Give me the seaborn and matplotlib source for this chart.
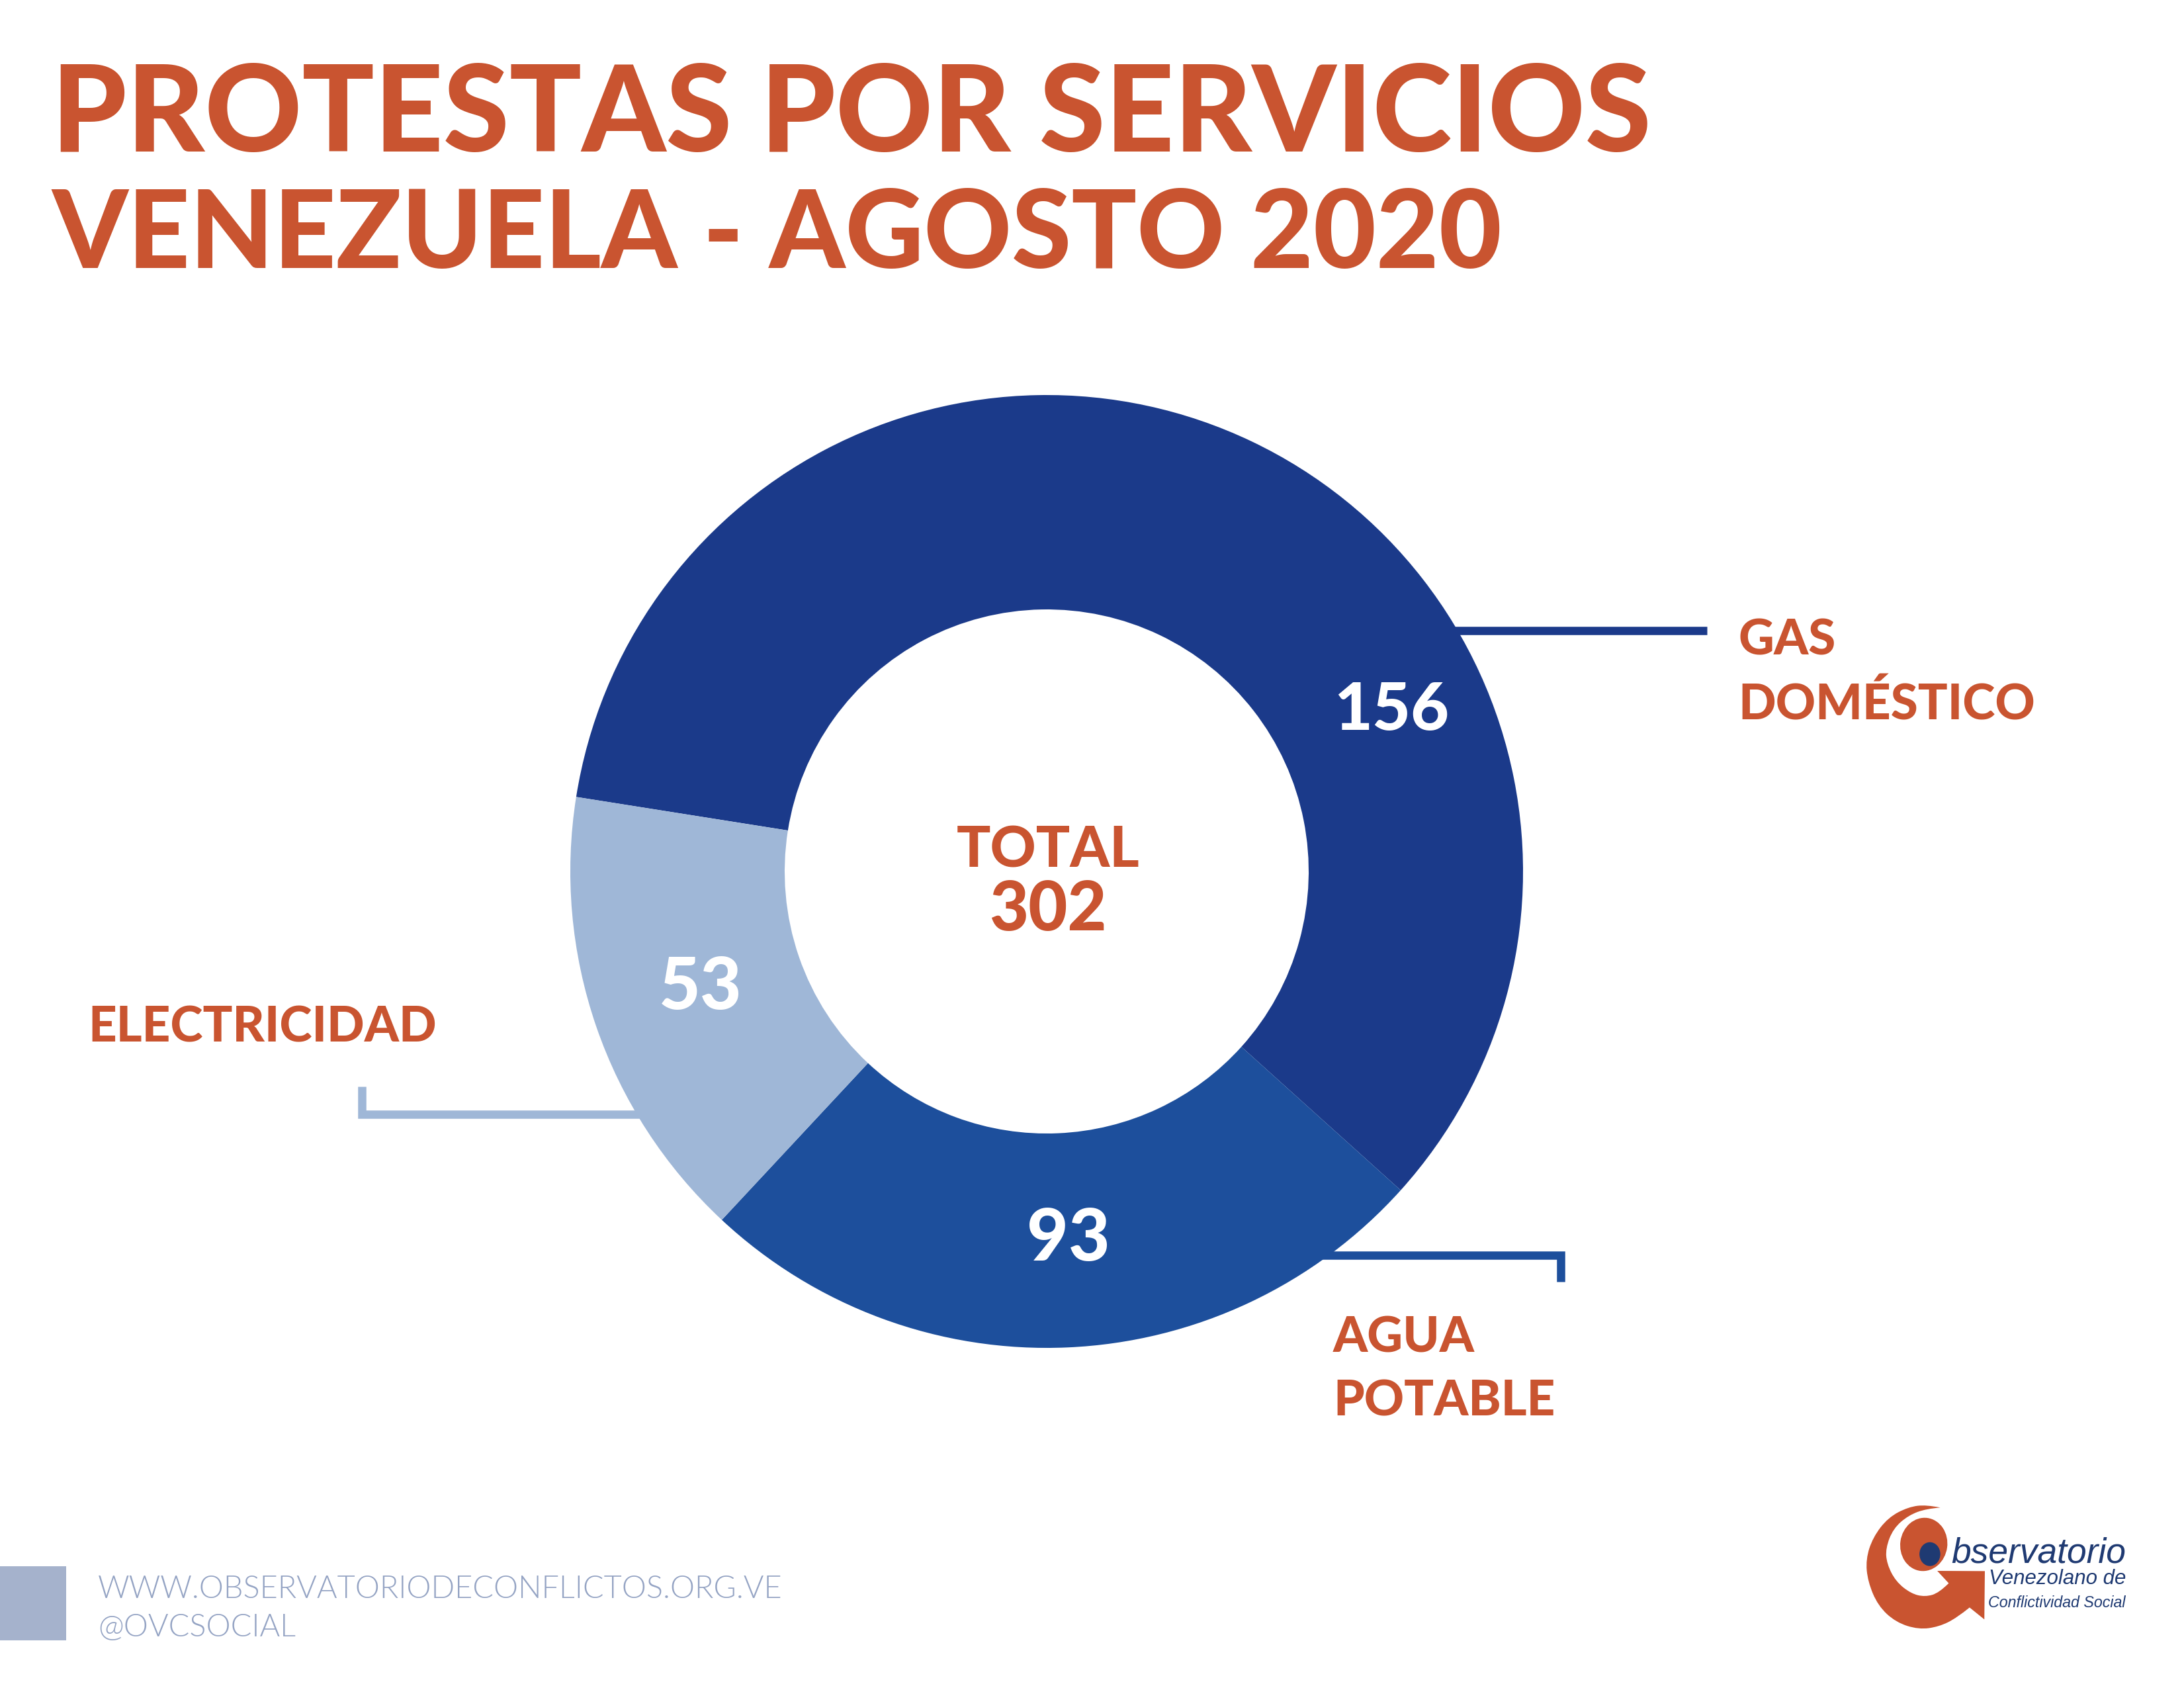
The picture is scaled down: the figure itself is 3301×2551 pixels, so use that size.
import matplotlib
matplotlib.use("Agg")
import matplotlib.pyplot as plt
from matplotlib.patches import Ellipse, PathPatch, Rectangle
from matplotlib.path import Path
import seaborn as sns

categories = ["GAS\nDOMÉSTICO", "AGUA\nPOTABLE", "ELECTRICIDAD"]
values = [156, 93, 53]
# the original slices are not proportional to the counts, degrees read off the picture
slice_degrees = [213, 91, 56]
colors = ["#1b3a8a", "#1d4f9c", "#9fb7d7"]
total_label = "TOTAL"
total_value = 302
title = "PROTESTAS POR SERVICIOS"
subtitle = "VENEZUELA - AGOSTO 2020"
footer_lines = ["WWW.OBSERVATORIODECONFLICTOS.ORG.VE", "@OVCSOCIAL"]

ORANGE = "#c95430"
NAVY = "#1f3a72"
W, H = 3301, 2551

sns.set_theme(style="white")
plt.rcParams["font.family"] = ["Lato", "DejaVu Sans"]

fig = plt.figure(figsize=(W / 300, H / 300), dpi=300)

# donut, starts at the gas/electricity edge
cx, cy, r = 1582, 1317, 720
ax = fig.add_axes([(cx - r) / W, 1 - (cy + r) / H, 2 * r / W, 2 * r / H])
ax.pie(slice_degrees, colors=colors, startangle=171, counterclock=False, radius=1,
       wedgeprops=dict(width=0.45, linewidth=0))
ax.set_xlim(-1, 1)
ax.set_ylim(-1, 1)

# overlay in pixel coordinates for text, leaders and logo
bg = fig.add_axes([0, 0, 1, 1])
bg.set_xlim(0, W)
bg.set_ylim(H, 0)
bg.axis("off")
bg.set_zorder(2)

bg.text(78, 176, title, color=ORANGE, fontsize=43.5, fontweight="black", va="center")
bg.text(78, 357, subtitle, color=ORANGE, fontsize=39.3, fontweight="black", va="center")

bg.text(1584, 1286, total_label, color=ORANGE, fontsize=20.5, fontweight="black", ha="center", va="center")
bg.text(1584, 1376, str(total_value), color=ORANGE, fontsize=24.5, fontweight="black", ha="center", va="center")

# value labels
bg.text(2103, 1074, str(values[0]), color="white", fontsize=24, fontweight="black", ha="center", va="center")
bg.text(1615, 1873, str(values[1]), color="white", fontsize=26, fontweight="black", ha="center", va="center")
bg.text(1059, 1493, str(values[2]), color="white", fontsize=26, fontweight="black", ha="center", va="center")

# category labels
bg.text(2627, 1017, categories[0], color=ORANGE, fontsize=17.9, fontweight="black", va="center", linespacing=1.48)
bg.text(2015, 2070, categories[1], color=ORANGE, fontsize=17.9, fontweight="black", va="center", linespacing=1.48)
bg.text(133, 1553, categories[2], color=ORANGE, fontsize=17.9, fontweight="black", va="center")

# leader lines
bg.plot([2198, 2580], [953, 953], color=colors[0], lw=3, solid_capstyle="butt")
bg.plot([1995, 2359, 2359], [1897, 1897, 1937], color=colors[1], lw=3, solid_joinstyle="miter", solid_capstyle="butt")
bg.plot([547, 547, 972], [1642, 1684, 1684], color=colors[2], lw=3, solid_joinstyle="miter", solid_capstyle="butt")

# footer
bg.add_patch(Rectangle((0, 2367), 100, 112, color="#a5b2cc", lw=0))
bg.text(148, 2402, footer_lines[0], color="#95a4c4", fontsize=11.25, fontweight=300, va="center")
bg.text(148, 2460, footer_lines[1], color="#95a4c4", fontsize=11.25, fontweight=300, va="center")


def logo_xy(zx, zy):
    # logo outline was traced on a crop of (2700, 2200), scaled 2.6x across and 3x down
    return 2700 + zx / 2.6, 2200 + zy / 3


def smooth_arc(points, verts, codes):
    # quadratic curve through the midpoints, keeps the end points
    pts = [logo_xy(*p) for p in points]
    for i in range(1, len(pts) - 1):
        mid = ((pts[i][0] + pts[i + 1][0]) / 2, (pts[i][1] + pts[i + 1][1]) / 2)
        if i == len(pts) - 2:
            mid = pts[-1]
        verts += [pts[i], mid]
        codes += [Path.CURVE3, Path.CURVE3]


outer = [(605, 235), (550, 222), (480, 232), (400, 280), (340, 370), (312, 470), (320, 570),
         (360, 680), (430, 755), (520, 788), (600, 775), (670, 735), (720, 688)]
arrow = [(778, 742), (780, 523), (593, 522), (638, 578)]
inner = [(638, 578), (600, 622), (545, 640), (490, 625), (430, 570), (395, 490), (390, 420),
         (420, 330), (480, 270), (550, 240), (605, 235)]

verts = [logo_xy(*outer[0])]
codes = [Path.MOVETO]
smooth_arc(outer, verts, codes)
for p in arrow:
    verts.append(logo_xy(*p))
    codes.append(Path.LINETO)
smooth_arc(inner, verts, codes)
bg.add_patch(PathPatch(Path(verts, codes), facecolor=ORANGE, lw=0))
bg.add_patch(Ellipse(logo_xy(540, 402), 185 / 2.6, 242 / 3, angle=8, color=ORANGE, lw=0))
bg.add_patch(Ellipse(logo_xy(564, 446), 82 / 2.6, 108 / 3, color=NAVY, lw=0))

logo_font = dict(color=NAVY, style="italic", family="Liberation Sans", va="baseline")
bg.text(*logo_xy(648, 485), "bservatorio", fontsize=12.8, **logo_font)
bg.text(*logo_xy(795, 583), "Venezolano de", fontsize=7.5, **logo_font)
bg.text(*logo_xy(792, 688), "Conflictividad Social", fontsize=5.6, **logo_font)

fig.savefig("out.png", dpi=300)
